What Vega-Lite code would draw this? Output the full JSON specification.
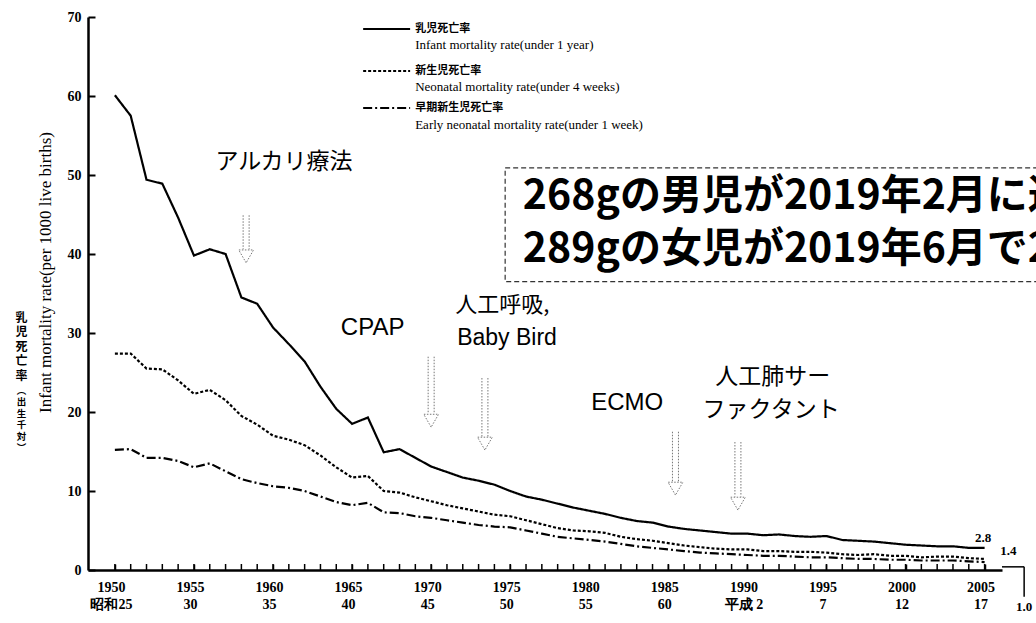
{
 "$schema": "https://vega.github.io/schema/vega-lite/v6.json",
 "width": 914, "height": 553,
 "autosize": {"type": "none"},
 "padding": {"left": 88, "top": 17, "right": 34, "bottom": 53},
 "background": "white",
 "config": {"view": {"stroke": null}, "axis": {"grid": false}},
 "datasets": {
  "rates": [
   {"year":1950,"infant":60.1,"neonatal":27.4,"early":15.2},
   {"year":1951,"infant":57.5,"neonatal":27.4,"early":15.3},
   {"year":1952,"infant":49.4,"neonatal":25.5,"early":14.2},
   {"year":1953,"infant":48.9,"neonatal":25.4,"early":14.2},
   {"year":1954,"infant":44.6,"neonatal":24.0,"early":13.8},
   {"year":1955,"infant":39.8,"neonatal":22.3,"early":13.0},
   {"year":1956,"infant":40.6,"neonatal":22.8,"early":13.5},
   {"year":1957,"infant":40.0,"neonatal":21.5,"early":12.5},
   {"year":1958,"infant":34.5,"neonatal":19.5,"early":11.5},
   {"year":1959,"infant":33.7,"neonatal":18.4,"early":11.0},
   {"year":1960,"infant":30.7,"neonatal":17.0,"early":10.6},
   {"year":1961,"infant":28.6,"neonatal":16.5,"early":10.4},
   {"year":1962,"infant":26.4,"neonatal":15.8,"early":10.0},
   {"year":1963,"infant":23.2,"neonatal":14.5,"early":9.3},
   {"year":1964,"infant":20.4,"neonatal":13.0,"early":8.6},
   {"year":1965,"infant":18.5,"neonatal":11.7,"early":8.2},
   {"year":1966,"infant":19.3,"neonatal":11.9,"early":8.5},
   {"year":1967,"infant":14.9,"neonatal":10.0,"early":7.3},
   {"year":1968,"infant":15.3,"neonatal":9.8,"early":7.2},
   {"year":1969,"infant":14.2,"neonatal":9.2,"early":6.8},
   {"year":1970,"infant":13.1,"neonatal":8.7,"early":6.6},
   {"year":1971,"infant":12.4,"neonatal":8.2,"early":6.3},
   {"year":1972,"infant":11.7,"neonatal":7.8,"early":6.0},
   {"year":1973,"infant":11.3,"neonatal":7.4,"early":5.7},
   {"year":1974,"infant":10.8,"neonatal":7.0,"early":5.5},
   {"year":1975,"infant":10.0,"neonatal":6.8,"early":5.4},
   {"year":1976,"infant":9.3,"neonatal":6.3,"early":5.0},
   {"year":1977,"infant":8.9,"neonatal":5.8,"early":4.6},
   {"year":1978,"infant":8.4,"neonatal":5.3,"early":4.2},
   {"year":1979,"infant":7.9,"neonatal":5.0,"early":4.0},
   {"year":1980,"infant":7.5,"neonatal":4.9,"early":3.8},
   {"year":1981,"infant":7.1,"neonatal":4.7,"early":3.6},
   {"year":1982,"infant":6.6,"neonatal":4.2,"early":3.3},
   {"year":1983,"infant":6.2,"neonatal":3.9,"early":3.0},
   {"year":1984,"infant":6.0,"neonatal":3.7,"early":2.8},
   {"year":1985,"infant":5.5,"neonatal":3.4,"early":2.6},
   {"year":1986,"infant":5.2,"neonatal":3.1,"early":2.4},
   {"year":1987,"infant":5.0,"neonatal":2.9,"early":2.2},
   {"year":1988,"infant":4.8,"neonatal":2.7,"early":2.1},
   {"year":1989,"infant":4.6,"neonatal":2.6,"early":2.0},
   {"year":1990,"infant":4.6,"neonatal":2.6,"early":1.9},
   {"year":1991,"infant":4.4,"neonatal":2.4,"early":1.8},
   {"year":1992,"infant":4.5,"neonatal":2.4,"early":1.8},
   {"year":1993,"infant":4.3,"neonatal":2.3,"early":1.7},
   {"year":1994,"infant":4.2,"neonatal":2.3,"early":1.6},
   {"year":1995,"infant":4.3,"neonatal":2.2,"early":1.6},
   {"year":1996,"infant":3.8,"neonatal":2.0,"early":1.5},
   {"year":1997,"infant":3.7,"neonatal":1.9,"early":1.4},
   {"year":1998,"infant":3.6,"neonatal":2.0,"early":1.4},
   {"year":1999,"infant":3.4,"neonatal":1.8,"early":1.3},
   {"year":2000,"infant":3.2,"neonatal":1.8,"early":1.3},
   {"year":2001,"infant":3.1,"neonatal":1.6,"early":1.2},
   {"year":2002,"infant":3.0,"neonatal":1.7,"early":1.2},
   {"year":2003,"infant":3.0,"neonatal":1.7,"early":1.2},
   {"year":2004,"infant":2.8,"neonatal":1.5,"early":1.1},
   {"year":2005,"infant":2.8,"neonatal":1.4,"early":1.0}
  ]
 },
 "layer": [
  {
   "data": {"name": "rates"},
   "transform": [{"fold": ["infant", "neonatal", "early"], "as": ["series", "rate"]}],
   "mark": {"type": "line", "strokeWidth": 2.2, "color": "black"},
   "encoding": {
    "x": {"field": "year", "type": "quantitative",
     "scale": {"domain": [1948.3, 2006.1], "nice": false, "zero": false},
     "axis": {"values": [1950,1955,1960,1965,1970,1975,1980,1985,1990,1995,2000,2005],
      "labelExpr": "[format(datum.value,'d'), datum.value == 1950 ? '昭和25' : (datum.value == 1990 ? '平成 2' : (datum.value < 1990 ? format(datum.value-1925,'d') : format(datum.value-1988,'d')))]",
      "tickSize": -6, "tickWidth": 1.5, "tickColor": "black",
      "domainColor": "black", "domainWidth": 2.5,
      "labelFont": "Liberation Serif", "labelFontWeight": "bold", "labelFontSize": 14, "labelColor": "black",
      "labelPadding": 16, "labelLineHeight": 17, "labelOverlap": false, "labelFlush": false, "labelBound": false, "labelOffset": -4,
      "title": null}},
    "y": {"field": "rate", "type": "quantitative",
     "scale": {"domain": [0, 70], "nice": false},
     "axis": {"values": [0,10,20,30,40,50,60,70],
      "tickSize": -7, "tickWidth": 2, "tickColor": "black",
      "domainColor": "black", "domainWidth": 2.5,
      "labelFont": "Liberation Serif", "labelFontWeight": "bold", "labelFontSize": 14, "labelColor": "black",
      "labelPadding": 14,
      "title": "Infant mortality rate(per 1000 live births)",
      "titleFont": "Liberation Serif", "titleFontWeight": "normal", "titleFontSize": 17, "titleColor": "black",
      "titleX": -43, "titleY": 255, "titleAngle": -90, "titleAlign": "center", "titleBaseline": "middle"}},
    "detail": {"field": "series"},
    "strokeDash": {"field": "series", "type": "nominal",
     "scale": {"domain": ["infant", "neonatal", "early"], "range": [[1, 0], [3, 2], [9, 3, 2, 3]]},
     "legend": null}
   }
  },
  {
   "data": {"name": "rates"},
   "mark": {"type": "tick", "orient": "vertical", "size": 6, "thickness": 1.5, "color": "black", "yOffset": -3, "opacity": 1},
   "encoding": {"x": {"field": "year", "type": "quantitative"}, "y": {"datum": 0}}
  },
  {"data": {"values": [{}]}, "mark": {"type": "text", "text": ["乳","児","死","亡","率"], "font": "Noto Sans CJK JP", "fontWeight": "bold", "fontSize": 12, "lineHeight": 14.5, "align": "center", "baseline": "middle", "color": "black"},
   "encoding": {"x": {"datum": 1944.1}, "y": {"datum": 31.9}}},
  {"data": {"values": [{}]}, "mark": {"type": "text", "text": ["︵","出","生","千","対","︶"], "font": "Noto Sans CJK JP", "fontWeight": "bold", "fontSize": 9.5, "lineHeight": 11.5, "align": "center", "baseline": "middle", "color": "black"},
   "encoding": {"x": {"datum": 1944.1}, "y": {"datum": 22.7}}},

  {"data": {"values": [{}]}, "mark": {"type": "rule", "strokeWidth": 2, "color": "black"},
   "encoding": {"x": {"datum": 1965.7}, "x2": {"datum": 1968.67}, "y": {"datum": 68.48}}},
  {"data": {"values": [{}]}, "mark": {"type": "rule", "strokeWidth": 2, "color": "black", "strokeDash": [3, 2]},
   "encoding": {"x": {"datum": 1965.7}, "x2": {"datum": 1968.67}, "y": {"datum": 63.16}}},
  {"data": {"values": [{}]}, "mark": {"type": "rule", "strokeWidth": 2, "color": "black", "strokeDash": [9, 3, 2, 3]},
   "encoding": {"x": {"datum": 1965.7}, "x2": {"datum": 1968.67}, "y": {"datum": 58.48}}},
  {"data": {"values": [{}]}, "mark": {"type": "text", "text": "乳児死亡率", "font": "Noto Sans CJK JP", "fontWeight": "bold", "fontSize": 11, "align": "left", "baseline": "middle", "color": "black"},
   "encoding": {"x": {"datum": 1968.99}, "y": {"datum": 68.48}}},
  {"data": {"values": [{}]}, "mark": {"type": "text", "text": "Infant mortality rate(under 1 year)", "font": "Liberation Serif", "fontSize": 13, "align": "left", "baseline": "middle", "color": "black"},
   "encoding": {"x": {"datum": 1968.99}, "y": {"datum": 66.46}}},
  {"data": {"values": [{}]}, "mark": {"type": "text", "text": "新生児死亡率", "font": "Noto Sans CJK JP", "fontWeight": "bold", "fontSize": 11, "align": "left", "baseline": "middle", "color": "black"},
   "encoding": {"x": {"datum": 1968.99}, "y": {"datum": 63.16}}},
  {"data": {"values": [{}]}, "mark": {"type": "text", "text": "Neonatal mortality rate(under 4 weeks)", "font": "Liberation Serif", "fontSize": 13, "align": "left", "baseline": "middle", "color": "black"},
   "encoding": {"x": {"datum": 1968.99}, "y": {"datum": 61.14}}},
  {"data": {"values": [{}]}, "mark": {"type": "text", "text": "早期新生児死亡率", "font": "Noto Sans CJK JP", "fontWeight": "bold", "fontSize": 11, "align": "left", "baseline": "middle", "color": "black"},
   "encoding": {"x": {"datum": 1968.99}, "y": {"datum": 58.48}}},
  {"data": {"values": [{}]}, "mark": {"type": "text", "text": "Early neonatal mortality rate(under 1 week)", "font": "Liberation Serif", "fontSize": 13, "align": "left", "baseline": "middle", "color": "black"},
   "encoding": {"x": {"datum": 1968.99}, "y": {"datum": 56.33}}},

  {"data": {"values": [{}]}, "mark": {"type": "text", "text": "アルカリ療法", "font": "Noto Sans CJK JP", "fontSize": 23, "align": "center", "baseline": "middle", "color": "black"},
   "encoding": {"x": {"datum": 1960.7}, "y": {"datum": 51.7}}},
  {"data": {"values": [{}]}, "mark": {"type": "text", "text": "CPAP", "font": "Liberation Sans", "fontSize": 24, "align": "center", "baseline": "middle", "color": "black"},
   "encoding": {"x": {"datum": 1966.3}, "y": {"datum": 30.6}}},
  {"data": {"values": [{}]}, "mark": {"type": "text", "text": "人工呼吸,", "font": "Noto Sans CJK JP", "fontSize": 22, "align": "center", "baseline": "middle", "color": "black"},
   "encoding": {"x": {"datum": 1974.5}, "y": {"datum": 33.6}}},
  {"data": {"values": [{}]}, "mark": {"type": "text", "text": "Baby Bird", "font": "Liberation Sans", "fontSize": 23, "align": "center", "baseline": "middle", "color": "black"},
   "encoding": {"x": {"datum": 1974.8}, "y": {"datum": 29.4}}},
  {"data": {"values": [{}]}, "mark": {"type": "text", "text": "ECMO", "font": "Liberation Sans", "fontSize": 24, "align": "center", "baseline": "middle", "color": "black"},
   "encoding": {"x": {"datum": 1982.4}, "y": {"datum": 21.1}}},
  {"data": {"values": [{}]}, "mark": {"type": "text", "text": "人工肺サー", "font": "Noto Sans CJK JP", "fontSize": 23, "align": "center", "baseline": "middle", "color": "black"},
   "encoding": {"x": {"datum": 1991.6}, "y": {"datum": 24.4}}},
  {"data": {"values": [{}]}, "mark": {"type": "text", "text": "ファクタント", "font": "Noto Sans CJK JP", "fontSize": 23, "align": "center", "baseline": "middle", "color": "black"},
   "encoding": {"x": {"datum": 1991.5}, "y": {"datum": 20.2}}},

  {"data": {"values": [{}]}, "mark": {"type": "rule", "strokeWidth": 1, "color": "#777", "strokeDash": [1.5, 1.5], "xOffset": -3},
   "encoding": {"x": {"datum": 1958.3}, "y": {"datum": 44.9}, "y2": {"datum": 40.6}}},
  {"data": {"values": [{}]}, "mark": {"type": "rule", "strokeWidth": 1, "color": "#777", "strokeDash": [1.5, 1.5], "xOffset": 3},
   "encoding": {"x": {"datum": 1958.3}, "y": {"datum": 44.9}, "y2": {"datum": 40.6}}},
  {"data": {"values": [{}]}, "mark": {"type": "point", "shape": "triangle-down", "filled": false, "stroke": "#777", "strokeWidth": 1, "strokeDash": [1.5, 1.5], "size": 220, "opacity": 1},
   "encoding": {"x": {"datum": 1958.3}, "y": {"datum": 39.7}}},

  {"data": {"values": [{}]}, "mark": {"type": "rule", "strokeWidth": 1, "color": "#777", "strokeDash": [1.5, 1.5], "xOffset": -3},
   "encoding": {"x": {"datum": 1970.0}, "y": {"datum": 27.0}, "y2": {"datum": 19.8}}},
  {"data": {"values": [{}]}, "mark": {"type": "rule", "strokeWidth": 1, "color": "#777", "strokeDash": [1.5, 1.5], "xOffset": 3},
   "encoding": {"x": {"datum": 1970.0}, "y": {"datum": 27.0}, "y2": {"datum": 19.8}}},
  {"data": {"values": [{}]}, "mark": {"type": "point", "shape": "triangle-down", "filled": false, "stroke": "#777", "strokeWidth": 1, "strokeDash": [1.5, 1.5], "size": 220, "opacity": 1},
   "encoding": {"x": {"datum": 1970.0}, "y": {"datum": 18.9}}},

  {"data": {"values": [{}]}, "mark": {"type": "rule", "strokeWidth": 1, "color": "#777", "strokeDash": [1.5, 1.5], "xOffset": -3},
   "encoding": {"x": {"datum": 1973.4}, "y": {"datum": 24.3}, "y2": {"datum": 16.9}}},
  {"data": {"values": [{}]}, "mark": {"type": "rule", "strokeWidth": 1, "color": "#777", "strokeDash": [1.5, 1.5], "xOffset": 3},
   "encoding": {"x": {"datum": 1973.4}, "y": {"datum": 24.3}, "y2": {"datum": 16.9}}},
  {"data": {"values": [{}]}, "mark": {"type": "point", "shape": "triangle-down", "filled": false, "stroke": "#777", "strokeWidth": 1, "strokeDash": [1.5, 1.5], "size": 220, "opacity": 1},
   "encoding": {"x": {"datum": 1973.4}, "y": {"datum": 16.0}}},

  {"data": {"values": [{}]}, "mark": {"type": "rule", "strokeWidth": 1, "color": "#777", "strokeDash": [1.5, 1.5], "xOffset": -3},
   "encoding": {"x": {"datum": 1985.45}, "y": {"datum": 17.5}, "y2": {"datum": 11.2}}},
  {"data": {"values": [{}]}, "mark": {"type": "rule", "strokeWidth": 1, "color": "#777", "strokeDash": [1.5, 1.5], "xOffset": 3},
   "encoding": {"x": {"datum": 1985.45}, "y": {"datum": 17.5}, "y2": {"datum": 11.2}}},
  {"data": {"values": [{}]}, "mark": {"type": "point", "shape": "triangle-down", "filled": false, "stroke": "#777", "strokeWidth": 1, "strokeDash": [1.5, 1.5], "size": 220, "opacity": 1},
   "encoding": {"x": {"datum": 1985.45}, "y": {"datum": 10.3}}},

  {"data": {"values": [{}]}, "mark": {"type": "rule", "strokeWidth": 1, "color": "#777", "strokeDash": [1.5, 1.5], "xOffset": -3},
   "encoding": {"x": {"datum": 1989.4}, "y": {"datum": 16.2}, "y2": {"datum": 9.3}}},
  {"data": {"values": [{}]}, "mark": {"type": "rule", "strokeWidth": 1, "color": "#777", "strokeDash": [1.5, 1.5], "xOffset": 3},
   "encoding": {"x": {"datum": 1989.4}, "y": {"datum": 16.2}, "y2": {"datum": 9.3}}},
  {"data": {"values": [{}]}, "mark": {"type": "point", "shape": "triangle-down", "filled": false, "stroke": "#777", "strokeWidth": 1, "strokeDash": [1.5, 1.5], "size": 220, "opacity": 1},
   "encoding": {"x": {"datum": 1989.4}, "y": {"datum": 8.4}}},

  {"data": {"values": [{}]}, "mark": {"type": "rect", "fill": "white", "fillOpacity": 0, "stroke": "#333", "strokeWidth": 1.2, "strokeDash": [5, 3]},
   "encoding": {"x": {"datum": 1974.68}, "x2": {"datum": 2012}, "y": {"datum": 50.9}, "y2": {"datum": 36.5}}},
  {"data": {"values": [{}]}, "mark": {"type": "text", "text": "268gの男児が2019年2月に退院", "font": "Noto Sans CJK JP", "fontWeight": "bold", "fontSize": 41, "align": "left", "baseline": "middle", "color": "black"},
   "encoding": {"x": {"datum": 1975.8}, "y": {"datum": 47.2}}},
  {"data": {"values": [{}]}, "mark": {"type": "text", "text": "289gの女児が2019年6月で2歳", "font": "Noto Sans CJK JP", "fontWeight": "bold", "fontSize": 41, "align": "left", "baseline": "middle", "color": "black"},
   "encoding": {"x": {"datum": 1975.8}, "y": {"datum": 40.5}}},

  {"data": {"values": [{}]}, "mark": {"type": "text", "text": "2.8", "font": "Liberation Serif", "fontWeight": "bold", "fontSize": 13, "align": "center", "baseline": "middle", "color": "black"},
   "encoding": {"x": {"datum": 2004.9}, "y": {"datum": 4.1}}},
  {"data": {"values": [{}]}, "mark": {"type": "text", "text": "1.4", "font": "Liberation Serif", "fontWeight": "bold", "fontSize": 13, "align": "center", "baseline": "middle", "color": "black"},
   "encoding": {"x": {"datum": 2006.5}, "y": {"datum": 2.4}}},
  {"data": {"values": [{}]}, "mark": {"type": "text", "text": "1.0", "font": "Liberation Serif", "fontWeight": "bold", "fontSize": 13, "align": "center", "baseline": "middle", "color": "black"},
   "encoding": {"x": {"datum": 2007.5}, "y": {"datum": -4.7}}},
  {"data": {"values": [{}]}, "mark": {"type": "rule", "strokeWidth": 1.5, "color": "black"},
   "encoding": {"x": {"datum": 2006.1}, "x2": {"datum": 2007.5}, "y": {"datum": 0.4}}},
  {"data": {"values": [{}]}, "mark": {"type": "rule", "strokeWidth": 1.5, "color": "black"},
   "encoding": {"x": {"datum": 2007.5}, "y": {"datum": 0.4}, "y2": {"datum": -3.4}}}
 ]
}
